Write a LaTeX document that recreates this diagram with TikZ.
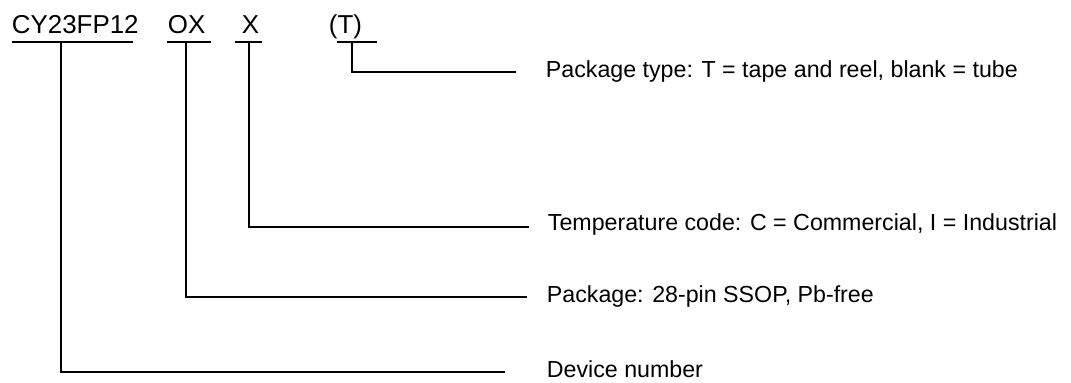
\documentclass[tikz,border=0pt]{standalone}
\usepackage{fontspec}
\setmainfont{Liberation Sans}
\begin{document}
\begin{tikzpicture}[x=1bp,y=-1bp,line width=1.8bp,
  code/.style={font=\fontsize{26}{30}\selectfont,anchor=base west,inner sep=0pt},
  lbl/.style={font=\fontsize{23.3}{28}\selectfont,anchor=base west,inner sep=0pt},
  link/.style={draw=black,line width=1.8bp}]
\useasboundingbox (0,0) rectangle (1071,382);
% top code text
\node[code] (cy) at (11,33) {CY23FP12};
\node[code] (ox) at (167,33) {OX};
\node[code] (x) at (241,33) {X};
\node[code] (t) at (328,33) {(T)};
% labels
\node[lbl] (lt) at (545,77) {Package type: T = tape and reel, blank = tube};
\node[lbl] (lx) at (547,230) {Temperature code: C = Commercial, I = Industrial};
\node[lbl] (lox) at (546,302) {Package: 28-pin SSOP, Pb-free};
\node[lbl] (lcy) at (546,377) {Device number};
% underline coordinates
\coordinate (cyA) at (12,42);  \coordinate (cyB) at (133,42); \coordinate (cyM) at (61,42);
\coordinate (oxA) at (167,42); \coordinate (oxB) at (211,42); \coordinate (oxM) at (186,42);
\coordinate (xA) at (235,42);  \coordinate (xB) at (262,42);  \coordinate (xM) at (249,42);
\coordinate (tA) at (337,42);  \coordinate (tB) at (377,42);  \coordinate (tM) at (352,42);
% line ends
\coordinate (cyE) at (505,372);
\coordinate (oxE) at (527,297);
\coordinate (xE) at (529,227);
\coordinate (tE) at (516,72);
% underlines
\draw[link] (cyA) -- (cyB);
\draw[link] (oxA) -- (oxB);
\draw[link] (xA) -- (xB);
\draw[link] (tA) -- (tB);
% connectors
\draw[link] (cyM) |- (cyE);
\draw[link] (oxM) |- (oxE);
\draw[link] (xM) |- (xE);
\draw[link] (tM) |- (tE);
\end{tikzpicture}
\end{document}
